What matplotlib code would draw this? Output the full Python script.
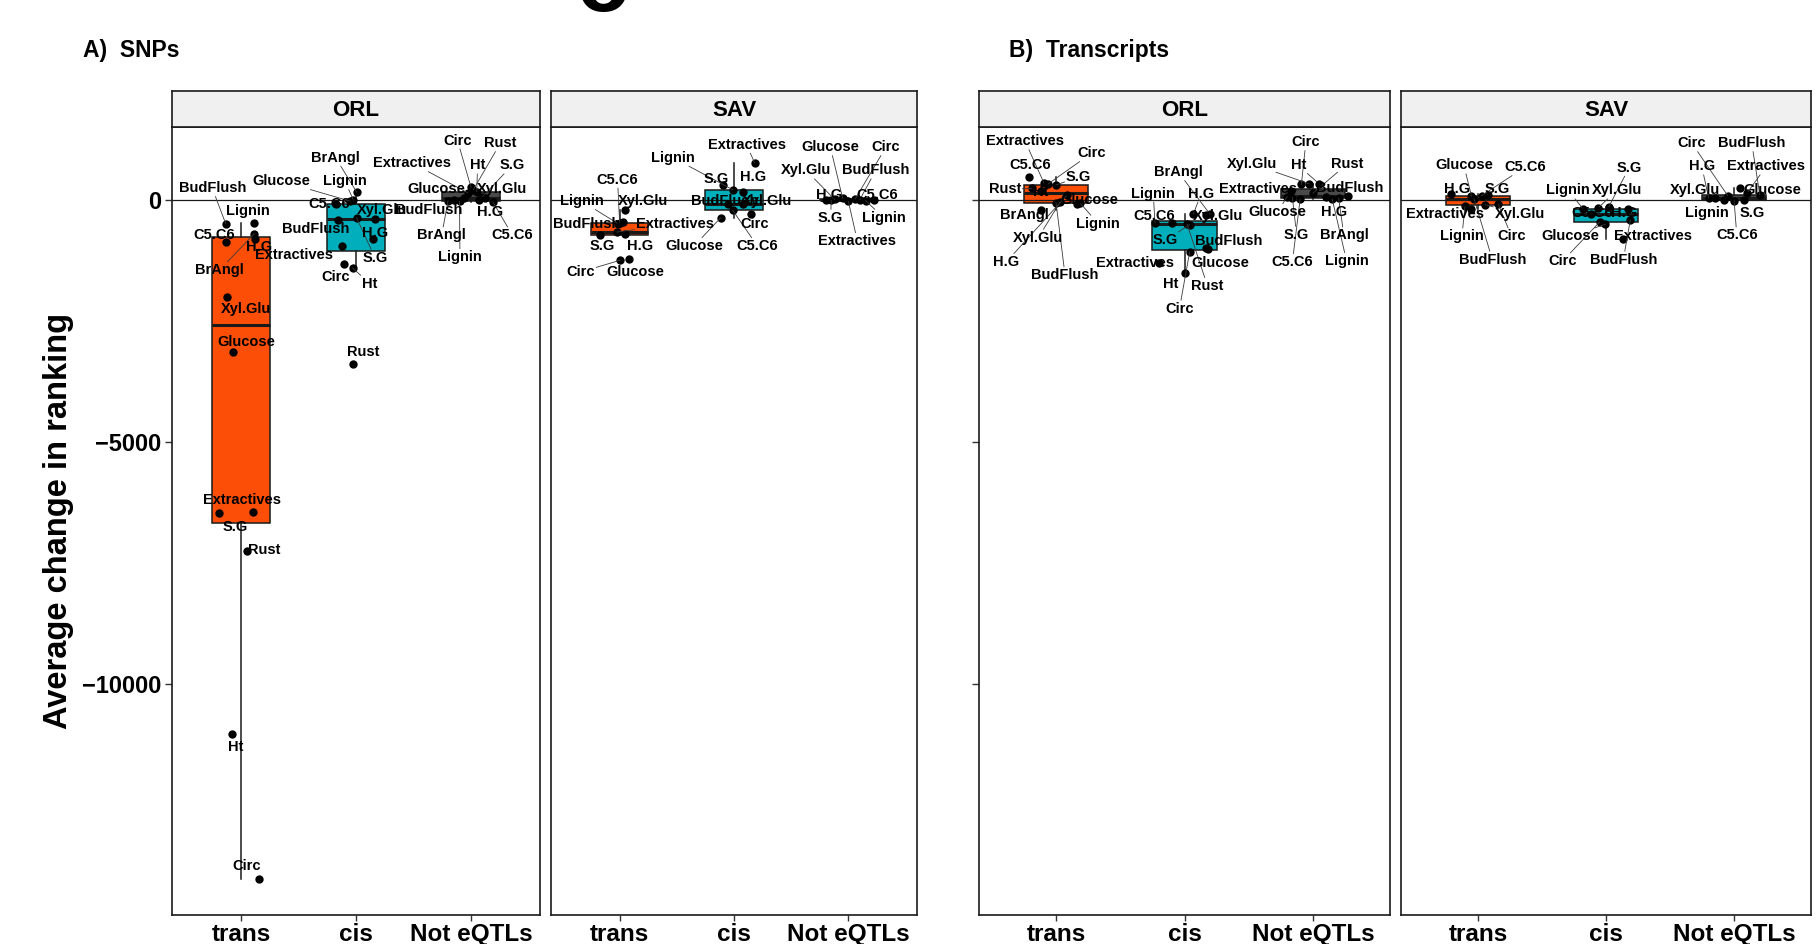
import matplotlib
matplotlib.use("Agg")
import matplotlib.pyplot as plt
import numpy as np

plt.rcParams['font.family'] = ['Liberation Sans', 'DejaVu Sans']
plt.rcParams['font.weight'] = 'bold'

W, H = 1817, 944

# ---------------- data ----------------
CATEGORIES = ["trans", "cis", "Not eQTLs"]
TRAITS_ORL = ["BrAngl", "BudFlush", "C5.C6", "Circ", "Extractives", "Glucose",
              "H.G", "Ht", "Lignin", "Rust", "S.G", "Xyl.Glu"]
TRAITS_SAV = ["BudFlush", "C5.C6", "Circ", "Extractives", "Glucose",
              "H.G", "Lignin", "S.G", "Xyl.Glu"]
FACETS = ["ORL", "SAV"]
Y_TICKS = [0, -5000, -10000]
Y_TICK_LABELS = ["0", "\u22125000", "\u221210000"]
Y_LABEL = "Average change in ranking"
TITLES = ["A)  SNPs", "B)  Transcripts"]

# A) SNPs
SNP_ORL_TRANS = [-688, -481, -866, -14026, -6436, -3142, -790, -11022, -461, -7254, -6463, -1994]
SNP_ORL_CIS = [172, -399, -83, -1306, -949, -14, -790, -1396, 10, -3390, -365, -378]
SNP_ORL_NOT = [-10, 5, -30, 270, 160, 60, 0, 180, -20, 220, 80, 40]
SNP_SAV_TRANS = [-447, -470, -1238, -653, -1217, -700, -481, -722, -206]
SNP_SAV_CIS = [-69, -206, -275, 777, -358, 172, 221, 309, -83]
SNP_SAV_NOT = [15, 5, 30, -20, 40, 10, -5, 0, 20]
# B) Transcripts
TX_ORL_TRANS = [-192, -50, 481, 340, 360, -69, 103, 200, -62, 250, 320, -40]
TX_ORL_CIS = [-290, -985, -467, -1066, -1293, -1000, -275, -1499, -467, -490, -500, -300]
TX_ORL_NOT = [50, 90, 20, 330, 200, 80, 70, 340, 30, 150, 60, 344]
TX_SAV_TRANS = [34, 100, -80, -172, 90, 138, -120, 103, -89]
TX_SAV_CIS = [-400, -275, -447, -790, -495, -172, -172, -140, -150]
TX_SAV_NOT = [120, -10, 100, 150, 262, 60, 10, 0, 40]

# horizontal jitter of the points (category units)
JIT_SNP_ORL = [[0.116, -0.133, -0.133, 0.157, 0.107, -0.067, 0.12, -0.08, 0.116, 0.05, -0.19, -0.12],
               [0.006, -0.154, -0.174, -0.101, -0.124, -0.052, 0.15, -0.03, -0.023, -0.023, 0.006, 0.165],
               [-0.2, -0.15, 0.19, 0.0, -0.03, -0.06, 0.07, 0.05, -0.1, 0.02, 0.1, 0.12]]
JIT_SNP_SAV = [[0.03, 0.0, 0.003, -0.025, 0.085, 0.05, -0.014, -0.171, 0.047],
               [-0.05, -0.011, 0.146, 0.18, -0.116, 0.082, -0.011, -0.094, 0.08],
               [0.1, 0.22, 0.06, 0.0, -0.05, -0.2, 0.15, -0.15, -0.12]]
JIT_TX_ORL = [[-0.119, 0.0, -0.208, -0.062, -0.094, 0.16, 0.083, -0.12, 0.19, -0.187, 0.0, 0.03],
              [0.2, 0.17, -0.1, 0.04, -0.2, 0.186, 0.07, 0.0, -0.23, 0.02, 0.04, 0.17],
              [0.2, 0.27, -0.1, -0.09, -0.17, -0.2, 0.1, 0.05, 0.15, 0.0, -0.16, -0.03]]
JIT_TX_SAV = [[-0.03, 0.03, 0.16, -0.05, -0.05, -0.206, -0.1, 0.08, 0.056],
              [0.19, -0.12, -0.05, 0.135, -0.008, 0.17, -0.18, 0.02, -0.06],
              [0.2, 0.0, -0.05, 0.1, 0.047, -0.2, -0.08, 0.08, -0.15]]

# repelled label placement: (offset from category centre, y)
LAB_SNP_ORL = [
    [(-0.189, -1444), (-0.25, 254), (-0.235, -722), (0.046, -13752), (0.011, -6188), (0.045, -2923),
     (0.159, -963), (-0.045, -11289), (0.063, -221), (0.2, -7219), (-0.052, -6739), (0.042, -2248)],
    [(-0.177, 881), (-0.352, -584), (-0.235, -83), (-0.176, -1582), (-0.539, -1134), (-0.65, 398),
     (0.17, -666), (0.12, -1718), (-0.096, 398), (0.065, -3141), (0.165, -1182), (0.229, -206)],
    [(-0.255, -722), (-0.365, -206), (0.361, -722), (-0.117, 1238), (-0.509, 769), (-0.304, 241),
     (0.165, -241), (0.057, 722), (-0.096, -1170), (0.255, 1182), (0.357, 722), (0.267, 241)]]
LAB_SNP_SAV = [
    [(-0.288, -495), (-0.018, 427), (-0.342, -1479), (0.484, -495), (0.135, -1479), (0.178, -943),
     (-0.331, -14), (-0.156, -943), (0.207, -14)],
    [(-0.079, -14), (0.205, -943), (0.177, -495), (0.111, 1149), (-0.35, -943), (0.17, 481),
     (-0.531, 881), (-0.159, 448), (0.286, -14)],
    [(0.239, 619), (0.249, 118), (0.328, 1100), (0.079, -840), (-0.157, 1100), (-0.17, 118),
     (0.31, -357), (-0.155, -357), (-0.369, 619)]]
LAB_TX_ORL = [
    [(-0.248, -309), (0.07, -1547), (-0.199, 722), (0.276, 976), (-0.241, 1223), (0.259, 0),
     (-0.388, -1273), (-0.121, 171), (0.329, -481), (-0.4, 227), (0.175, 481), (-0.138, -769)],
    [(-0.048, 584), (0.347, -840), (-0.236, -324), (-0.039, -2234), (-0.386, -1285), (0.276, -1285),
     (0.129, 138), (-0.105, -1733), (-0.243, 138), (0.179, -1768), (-0.148, -825), (0.263, -324)],
    [(0.241, -722), (0.288, 262), (-0.16, -1273), (-0.055, 1203), (-0.426, 241), (-0.276, -241),
     (0.164, -241), (-0.114, 722), (0.262, -1252), (0.269, 757), (-0.127, -708), (-0.477, 757)]]
LAB_TX_SAV = [
    [(0.113, -1223), (0.367, 687), (0.263, -743), (-0.258, -274), (-0.109, 722), (-0.164, 227),
     (-0.125, -743), (0.152, 227), (0.328, -274)],
    [(0.135, -1223), (-0.109, -262), (-0.34, -1258), (0.363, -743), (-0.281, -743), (0.14, -262),
     (-0.294, 206), (0.18, 675), (0.084, 206)],
    [(0.138, 1182), (0.021, -722), (-0.33, 1182), (0.25, 701), (0.297, 221), (-0.252, 701),
     (-0.213, -262), (0.144, -262), (-0.304, 221)]]

# ---------------- style ----------------
FILLS = ["#FC4E07", "#00AFBB", "#4A4A4A"]
EDGE = "#1A1A1A"
STRIP_BG = "#F0F0F0"

fig = plt.figure(figsize=(W / 100, H / 100), dpi=100)

all_vals = np.concatenate([SNP_ORL_TRANS, SNP_ORL_CIS, SNP_ORL_NOT, SNP_SAV_TRANS, SNP_SAV_CIS,
                           SNP_SAV_NOT, TX_ORL_TRANS, TX_ORL_CIS, TX_ORL_NOT, TX_SAV_TRANS,
                           TX_SAV_CIS, TX_SAV_NOT])
rng = all_vals.max() - all_vals.min()
YLIM = (all_vals.min() - 0.05 * rng, all_vals.max() + 0.05 * rng)

PANEL_TOP, PANEL_BOT = 127, 915
STRIP_TOP = 91
panels = [
    (172, 540, "ORL", TRAITS_ORL, [SNP_ORL_TRANS, SNP_ORL_CIS, SNP_ORL_NOT], JIT_SNP_ORL, LAB_SNP_ORL, True, True),
    (551, 917, "SAV", TRAITS_SAV, [SNP_SAV_TRANS, SNP_SAV_CIS, SNP_SAV_NOT], JIT_SNP_SAV, LAB_SNP_SAV, False, False),
    (979, 1390, "ORL", TRAITS_ORL, [TX_ORL_TRANS, TX_ORL_CIS, TX_ORL_NOT], JIT_TX_ORL, LAB_TX_ORL, True, False),
    (1401, 1811, "SAV", TRAITS_SAV, [TX_SAV_TRANS, TX_SAV_CIS, TX_SAV_NOT], JIT_TX_SAV, LAB_TX_SAV, False, False),
]

label_items = []
for (x0, x1, site, traits, vals, jits, labs, yticks_on, ylabels_on) in panels:
    ax = fig.add_axes([x0 / W, 1 - PANEL_BOT / H, (x1 - x0) / W, (PANEL_BOT - PANEL_TOP) / H])
    ax.set_xlim(0.4, 3.6)
    ax.set_ylim(*YLIM)
    for i in range(3):
        v = np.asarray(vals[i], dtype=float)
        pos = i + 1
        ax.boxplot(v, positions=[pos], widths=0.5, patch_artist=True, showfliers=False,
                   showcaps=False, whis=1.5, manage_ticks=False,
                   boxprops=dict(facecolor=FILLS[i], edgecolor=EDGE, linewidth=1.1),
                   medianprops=dict(color=EDGE, linewidth=2.2),
                   whiskerprops=dict(color=EDGE, linewidth=1.1), zorder=2)
        ax.scatter(pos + np.asarray(jits[i]), v, s=36, color="black", zorder=3, linewidths=0)
        for k, name in enumerate(traits):
            lx, ly = labs[i][k]
            t = ax.text(pos + lx, ly, name, ha="center", va="center", fontsize=10.5,
                        fontweight="bold", color="black", zorder=5)
            label_items.append((ax, t, pos + jits[i][k], v[k]))
    ax.axhline(0, color=EDGE, lw=0.9, zorder=2.5)
    ax.set_xticks([1, 2, 3])
    ax.set_xticklabels(CATEGORIES)
    ax.tick_params(axis="x", length=4, width=1, color="#333333", labelsize=17.5, pad=2)
    if yticks_on:
        ax.set_yticks(Y_TICKS)
        if ylabels_on:
            ax.set_yticklabels(Y_TICK_LABELS)
        else:
            ax.set_yticklabels([])
        ax.tick_params(axis="y", length=5, width=1, color="#333333", labelsize=17, pad=3)
    else:
        ax.set_yticks([])
    for sp in ax.spines.values():
        sp.set_color(EDGE)
        sp.set_linewidth(1.2)
    # strip
    sax = fig.add_axes([x0 / W, 1 - PANEL_TOP / H, (x1 - x0) / W, (PANEL_TOP - STRIP_TOP) / H])
    sax.set_facecolor(STRIP_BG)
    sax.set_xticks([]); sax.set_yticks([])
    for sp in sax.spines.values():
        sp.set_color(EDGE)
        sp.set_linewidth(1.2)
    sax.text(0.5, 0.47, site, ha="center", va="center", fontsize=16, fontweight="bold",
             transform=sax.transAxes)

fig.text(58 / W, 1 - 521 / H, Y_LABEL, rotation=90, ha="center", va="center",
         fontsize=23.5, fontweight="bold")
fig.text(83 / W, 1 - 50 / H, TITLES[0], ha="left", va="center", fontsize=16.5, fontweight="bold")
fig.text(1009 / W, 1 - 50 / H, TITLES[1], ha="left", va="center", fontsize=16.5, fontweight="bold")
# fragment of a glyph cut off at the top edge of the source image
fig.text(603 / W, 1 - 11 / H, "o", ha="center", va="baseline", fontsize=63, fontweight="bold")

# ---- label segments (ggrepel-like) ----
fig.canvas.draw()
renderer = fig.canvas.get_renderer()
for ax, t, px, py in label_items:
    bb = t.get_window_extent(renderer)
    xd, yd = ax.transData.transform((px, py))
    pad = 1.5
    if bb.x0 - pad <= xd <= bb.x1 + pad and bb.y0 - pad <= yd <= bb.y1 + pad:
        continue
    cx, cy = (bb.x0 + bb.x1) / 2, (bb.y0 + bb.y1) / 2
    dx, dy = xd - cx, yd - cy
    tx = (bb.width / 2 + pad) / abs(dx) if dx != 0 else np.inf
    ty = (bb.height / 2 + pad) / abs(dy) if dy != 0 else np.inf
    s = min(tx, ty)
    sx, sy = cx + dx * s, cy + dy * s
    if np.hypot(xd - sx, yd - sy) < 8:
        continue
    (dsx, dsy) = ax.transData.inverted().transform((sx, sy))
    ax.plot([dsx, px], [dsy, py], color="#3A3A3A", lw=0.6, zorder=4, clip_on=False)

fig.savefig("out.png", dpi=100)
